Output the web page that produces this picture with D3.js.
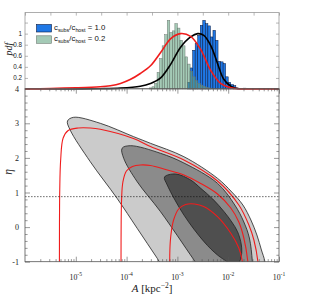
<!DOCTYPE html>
<html><head><meta charset="utf-8">
<script src="https://cdn.jsdelivr.net/npm/d3@7"></script>
<style>body{margin:0;background:#fff}svg{display:block}</style>
</head><body><svg id="c" width="311" height="298"></svg>
<script>
// ---------- data ----------
const decadeTicks = [1e-5, 1e-4, 1e-3, 1e-2, 1e-1];
const decadeExp = ["-5", "-4", "-3", "-2", "-1"];
const topPanelTickLog = [-6, -5.5, -5, -4.5, -4, -3.5, -3, -2.5, -2, -1.5, -1];
const etaTicks = [-1, 0, 1, 2, 3, 4];
const pdfTicks = [0.2, 0.4, 0.6, 0.8, 1, 1.2];
const pdfLabelled = [0.2, 0.4, 0.6, 0.8, 1];
const etaRef = 0.88;
const legendRatios = ["1.0", "0.2"];

// histograms (log10 A of bin left edge, pdf)
const binWidthLog = 0.05;
const greenEdges = [-3.55,-3.50,-3.45,-3.40,-3.35,-3.30,-3.25,-3.20,-3.15,-3.10,-3.05,-3.00,-2.95,-2.90,-2.85,-2.80,-2.75,-2.70,-2.65,-2.60,-2.55,-2.50,-2.45,-2.40];
const greenPdf   = [0.02,0.04,0.10,0.30,0.55,0.78,0.98,1.24,1.02,1.05,1.18,1.10,0.88,0.78,0.58,0.45,0.32,0.22,0.15,0.10,0.07,0.05,0.03,0.02];
const blueEdges = [-2.80,-2.75,-2.70,-2.65,-2.60,-2.55,-2.50,-2.45,-2.40,-2.35,-2.30,-2.25,-2.20,-2.15,-2.10,-2.05,-2.00,-1.95,-1.90,-1.85,-1.70];
const bluePdf   = [0.12,0.38,0.70,0.82,0.97,1.15,1.24,1.18,1.14,0.94,1.06,0.88,0.50,0.49,0.46,0.22,0.12,0.08,0.06,0.02,0.015];

// smooth pdf curves
const redCurveLogA = [-6.0,-5.5,-5.0,-4.52,-4.32,-4.12,-3.93,-3.73,-3.53,-3.33,-3.13,-2.94,-2.74,-2.54,-2.34,-2.15,-1.95,-1.75,-1.5,-1.0];
const redCurvePdf  = [0.003,0.008,0.02,0.04,0.06,0.10,0.17,0.28,0.42,0.66,0.91,1.0,0.95,0.71,0.33,0.10,0.02,0.003,0,0];
const blackCurveLogA = [-6.0,-5.0,-4.52,-4.12,-3.73,-3.53,-3.33,-3.13,-2.94,-2.74,-2.60,-2.48,-2.34,-2.21,-2.09,-1.95,-1.81,-1.6,-1.0];
const blackCurvePdf  = [0,0.002,0.005,0.015,0.05,0.10,0.20,0.45,0.75,0.94,1.0,0.97,0.78,0.46,0.18,0.05,0.005,0,0];

// filled confidence regions (log10 A, eta)
const lightLogA = [-5.164,-5.045,-4.518,-3.860,-3.530,-2.872,-2.211,-1.929,-1.711,-1.553,-1.435,-1.346,-1.277,-1.227,-2.976,-3.397,-3.792,-4.188,-4.715,-5.111];
const lightEta  = [3.066,3.173,3.000,2.613,2.422,2.035,1.410,1.014,0.639,0.205,-0.228,-0.662,-1.000,-1.818,-1.818,-0.902,-0.035,0.832,1.890,2.806];
const midLogA = [-4.089,-3.925,-3.332,-2.872,-2.211,-1.870,-1.692,-1.583,-1.524,-1.494,-2.265,-2.674,-3.332,-3.792,-4.057];
const midEta  = [2.278,2.353,2.133,1.853,1.266,0.639,0.147,-0.315,-1.000,-1.818,-1.818,-0.951,0.445,1.312,1.988];
const darkLogA = [-3.253,-3.036,-2.739,-2.541,-2.304,-2.081,-1.929,-1.816,-1.741,-1.741,-1.791,-1.889,-2.008,-2.211,-2.476,-2.872,-3.200];
const darkEta  = [1.448,1.535,1.361,1.121,0.812,0.445,0.147,-0.133,-0.517,-0.835,-1.023,-1.095,-1.009,-0.806,-0.422,0.350,1.217];

// red contours (log10 A, eta)
const redOuterLogA = [-5.322,-5.322,-5.316,-5.298,-5.249,-5.150,-4.953,-4.715,-4.518,-3.866,-3.530,-2.872,-2.211,-1.791,-1.593,-1.494,-1.415,-1.385];
const redOuterEta  = [-1.818,-0.373,1.072,1.939,2.575,2.792,2.864,2.864,2.827,2.561,2.329,1.939,1.332,0.639,0.061,-0.373,-1.000,-1.818];
const redMidLogA = [-4.109,-4.109,-4.099,-4.073,-4.004,-3.885,-3.727,-3.530,-3.233,-2.872,-2.541,-2.211,-1.949,-1.791,-1.692,-1.613,-1.583];
const redMidEta  = [-1.818,-0.373,0.783,1.304,1.621,1.751,1.795,1.780,1.665,1.506,1.260,0.957,0.552,0.147,-0.315,-1.000,-1.818];
const redInnerLogA = [-3.148,-3.148,-3.128,-3.075,-2.976,-2.838,-2.660,-2.482,-2.211,-1.949,-1.791,-1.721,-1.692];
const redInnerEta  = [-1.818,-0.662,-0.228,0.205,0.523,0.653,0.668,0.595,0.301,-0.179,-0.604,-1.000,-1.818];

// ---------- layout ----------
const svg = d3.select("#c");
const L = 25, R = 279, topT = 12.6, mid = 89, botB = 261.7;
const x = d3.scaleLog().domain([1e-6, 1e-1]).range([L, R]);
const yTop = d3.scaleLinear().domain([0, 1.38]).range([mid, topT]);
const yBot = d3.scaleLinear().domain([-1, 4]).range([botB, 88.7]);
const P = v => Math.pow(10, v);
const serif = "'Liberation Serif','DejaVu Serif',serif";
const sans = "'Liberation Sans',Arial,sans-serif";
const RED = "#f01c1c";

svg.append("defs").append("clipPath").attr("id","clipB")
  .append("rect").attr("x",L).attr("y",yBot(4)).attr("width",R-L).attr("height",botB-yBot(4));

// ---------- top panel ----------
const gT = svg.append("g");
const bw = d => x(P(d + binWidthLog)) - x(P(d));
gT.append("g").selectAll("rect").data(d3.zip(blueEdges, bluePdf)).join("rect")
  .attr("x", d => x(P(d[0]))).attr("width", d => bw(d[0]))
  .attr("y", d => yTop(d[1])).attr("height", d => yTop(0) - yTop(d[1]))
  .attr("fill", "#1f78e6").attr("stroke", "#0a1a40").attr("stroke-width", 0.5);
gT.append("g").selectAll("rect").data(d3.zip(greenEdges, greenPdf)).join("rect")
  .attr("x", d => x(P(d[0]))).attr("width", d => bw(d[0]))
  .attr("y", d => yTop(d[1])).attr("height", d => yTop(0) - yTop(d[1]))
  .attr("fill", "#5a9f7a").attr("fill-opacity", 0.55)
  .attr("stroke", "#6d7a72").attr("stroke-width", 0.5);

const lineT = d3.line().x(d => x(P(d[0]))).y(d => yTop(d[1])).curve(d3.curveCatmullRom);
gT.append("path").attr("d", lineT(d3.zip(blackCurveLogA, blackCurvePdf)))
  .attr("fill","none").attr("stroke","#000").attr("stroke-width",1.6);
gT.append("path").attr("d", lineT(d3.zip(redCurveLogA, redCurvePdf)))
  .attr("fill","none").attr("stroke",RED).attr("stroke-width",1.6);

// top panel frame & ticks
gT.append("rect").attr("x",L).attr("y",topT).attr("width",R-L).attr("height",mid-topT)
  .attr("fill","none").attr("stroke","#999").attr("stroke-width",0.8);
const axTT = gT.append("g").attr("transform",`translate(0,${topT})`)
  .call(d3.axisTop(x).tickValues(topPanelTickLog.map(P)).tickSizeInner(-3).tickSizeOuter(0).tickFormat(""));
const axTL = gT.append("g").attr("transform",`translate(${L},0)`)
  .call(d3.axisLeft(yTop).tickValues(pdfTicks).tickSizeInner(-3).tickSizeOuter(0).tickPadding(3)
    .tickFormat(v => pdfLabelled.includes(v) ? String(v) : ""));
const axTR = gT.append("g").attr("transform",`translate(${R},0)`)
  .call(d3.axisRight(yTop).tickValues(pdfTicks).tickSizeInner(-3).tickSizeOuter(0).tickFormat(""));
[axTT, axTL, axTR].forEach(a => { a.select(".domain").remove(); a.selectAll("line").attr("stroke","#888").attr("stroke-width",0.6); });
axTL.selectAll("text").attr("font-family", sans).attr("font-size", 6.3).attr("fill","#222");

// legend
const legColors = [["#1f78e6","#0a1a40",1],["#5a9f7a","#6d7a72",0.55]];
legendRatios.forEach((r, i) => {
  const yy = 24.5 + i * 11.3;
  gT.append("rect").attr("x",36.5).attr("y",yy).attr("width",15).attr("height",7.5)
    .attr("fill",legColors[i][0]).attr("fill-opacity",legColors[i][2])
    .attr("stroke",legColors[i][1]).attr("stroke-width",0.6);
  const t = gT.append("text").attr("x",54).attr("y",yy+5.3).attr("font-family",sans).attr("font-size",7.8).attr("fill","#111");
  t.append("tspan").text("c");
  t.append("tspan").attr("font-size",5.4).attr("dy",1.8).text("subs");
  t.append("tspan").attr("dy",-1.8).text("/c");
  t.append("tspan").attr("font-size",5.4).attr("dy",1.8).text("host");
  t.append("tspan").attr("dy",-1.8).text(" = " + r);
});

// pdf label
svg.append("text").attr("transform","translate(12,49) rotate(-90)").attr("text-anchor","middle")
  .attr("font-family",serif).attr("font-style","italic").attr("font-size",10).attr("fill","#222").text("pdf");

// ---------- bottom panel ----------
const gB = svg.append("g").attr("clip-path","url(#clipB)");
const shape = d3.line().x(d => x(P(d[0]))).y(d => yBot(d[1])).curve(d3.curveCatmullRomClosed);
[[lightLogA, lightEta, "#cbcbcb"], [midLogA, midEta, "#8b8b8b"], [darkLogA, darkEta, "#4f4f4f"]].forEach(s => {
  gB.append("path").attr("d", shape(d3.zip(s[0], s[1]))).attr("fill", s[2])
    .attr("stroke","#222").attr("stroke-width",0.8);
});
const open = d3.line().x(d => x(P(d[0]))).y(d => yBot(d[1])).curve(d3.curveCatmullRom);
[[redOuterLogA, redOuterEta],[redMidLogA, redMidEta],[redInnerLogA, redInnerEta]].forEach(s => {
  gB.append("path").attr("d", open(d3.zip(s[0], s[1]))).attr("fill","none")
    .attr("stroke",RED).attr("stroke-width",1.1);
});
gB.append("line").attr("x1",L).attr("x2",R).attr("y1",yBot(etaRef)).attr("y2",yBot(etaRef))
  .attr("stroke","#111").attr("stroke-width",0.6).attr("stroke-dasharray","1.6,1.4");

// frame & ticks
svg.append("rect").attr("x",L).attr("y",yBot(4)).attr("width",R-L).attr("height",botB-yBot(4))
  .attr("fill","none").attr("stroke","#555").attr("stroke-width",0.8);
const minorX = x.ticks().filter(v => !decadeTicks.includes(v) && v > 1e-6 && v < 1e-1 && Math.abs(Math.log10(v) - Math.round(Math.log10(v))) > 1e-6);
const axes = [];
axes.push(svg.append("g").attr("transform",`translate(0,${botB})`).call(d3.axisBottom(x).tickValues(decadeTicks).tickSizeInner(-5).tickSizeOuter(0).tickFormat("")));
axes.push(svg.append("g").attr("transform",`translate(0,${botB})`).call(d3.axisBottom(x).tickValues(minorX).tickSizeInner(-2.6).tickSizeOuter(0).tickFormat("")));
axes.push(svg.append("g").attr("transform",`translate(0,${yBot(4)})`).call(d3.axisTop(x).tickValues(decadeTicks).tickSizeInner(-5).tickSizeOuter(0).tickFormat("")));
axes.push(svg.append("g").attr("transform",`translate(0,${yBot(4)})`).call(d3.axisTop(x).tickValues(minorX).tickSizeInner(-2.6).tickSizeOuter(0).tickFormat("")));
const minorY = yBot.ticks(25).filter(v => Math.abs(v - Math.round(v)) > 1e-6);
const axL = svg.append("g").attr("transform",`translate(${L},0)`)
  .call(d3.axisLeft(yBot).tickValues(etaTicks).tickSizeInner(-5).tickSizeOuter(0).tickPadding(6).tickFormat(v => String(v)));
axes.push(axL);
axes.push(svg.append("g").attr("transform",`translate(${L},0)`).call(d3.axisLeft(yBot).tickValues(minorY).tickSizeInner(-2.6).tickSizeOuter(0).tickFormat("")));
axes.push(svg.append("g").attr("transform",`translate(${R},0)`).call(d3.axisRight(yBot).tickValues(etaTicks).tickSizeInner(-5).tickSizeOuter(0).tickFormat("")));
axes.push(svg.append("g").attr("transform",`translate(${R},0)`).call(d3.axisRight(yBot).tickValues(minorY).tickSizeInner(-2.6).tickSizeOuter(0).tickFormat("")));
axes.forEach(a => { a.select(".domain").remove(); a.selectAll("line").attr("stroke","#555").attr("stroke-width",0.6); });
axL.selectAll("text").attr("font-family",serif).attr("font-size",8).attr("fill","#222");

// x tick labels 10^n
decadeTicks.forEach((v, i) => {
  const t = svg.append("text").attr("x", x(v)).attr("y", 279.5).attr("text-anchor","middle")
    .attr("font-family",serif).attr("font-size",7.8).attr("fill","#222");
  t.append("tspan").text("10");
  t.append("tspan").attr("font-size",5.6).attr("dy",-3.3).text(decadeExp[i]);
});

// axis labels
const xl = svg.append("text").attr("x",152).attr("y",291.5).attr("text-anchor","middle")
  .attr("font-family",serif).attr("font-size",11).attr("fill","#222");
xl.append("tspan").attr("font-style","italic").text("A");
xl.append("tspan").text(" [kpc");
xl.append("tspan").attr("font-size",7.5).attr("dy",-4).text("\u22122");
xl.append("tspan").attr("dy",4).text("]");
svg.append("text").attr("transform","translate(12,172) rotate(-90)").attr("text-anchor","middle")
  .attr("font-family",serif).attr("font-style","italic").attr("font-size",11.5).attr("fill","#222").text("η");
</script></body></html>
